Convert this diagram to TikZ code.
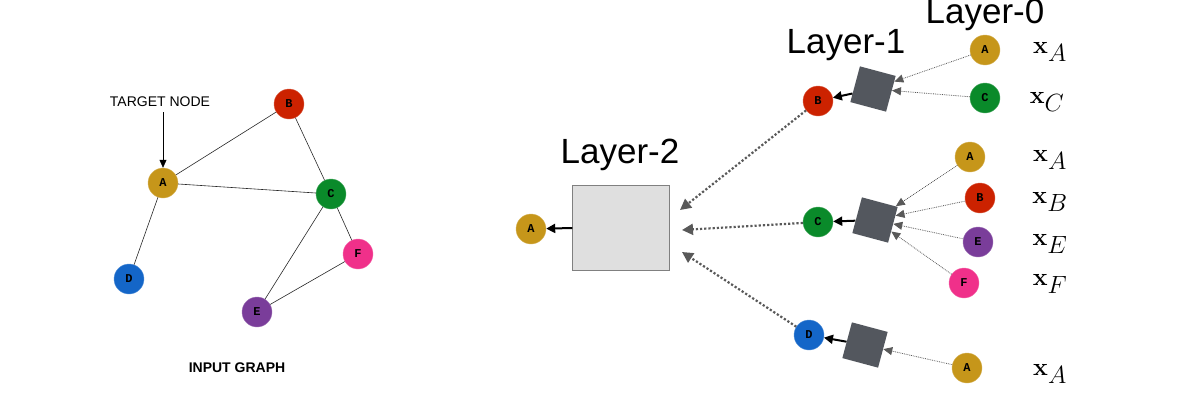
\documentclass[tikz,border=0pt]{standalone}
\usepackage[no-math]{fontspec}
\setmainfont{Liberation Sans}
\newfontfamily\mono{Liberation Mono}
\usetikzlibrary{arrows.meta}
\definecolor{cA}{HTML}{C6961A}\definecolor{cB}{HTML}{CC2200}\definecolor{cC}{HTML}{0A8A2A}
\definecolor{cD}{HTML}{1466C8}\definecolor{cE}{HTML}{7A3D9A}\definecolor{cF}{HTML}{F0308A}
\definecolor{agg}{HTML}{53575E}
\begin{document}
\begin{tikzpicture}[x=1pt,y=-1pt,
 gn/.style={circle,minimum size=30pt,inner sep=0pt,draw=#1!70!white,fill=#1,font=\mono\bfseries\fontsize{12}{12}\selectfont},
 sq/.style={fill=agg,minimum size=37pt,inner sep=0pt,rotate=-15},
 dl/.style={gray!70!black,densely dotted,thick,-{Triangle[length=9pt,width=8pt]}},
 bl/.style={line width=2.2pt,gray!70!black,dotted,-{Triangle[length=11pt,width=11pt]}},
 ar/.style={line width=2pt,-{Triangle[length=9pt,width=9pt]}},
 lab/.style={font=\fontsize{35}{35}\selectfont},
 xl/.style={font=\fontsize{42}{42}\selectfont}]
\useasboundingbox (0,0) rectangle (1200,402);
% input graph
\node[gn=cA] (A) at (163,183) {A};
\node[gn=cB] (B) at (289,104) {B};
\node[gn=cC] (C) at (331,194) {C};
\node[gn=cD] (D) at (129,279) {D};
\node[gn=cE] (E) at (257,312) {E};
\node[gn=cF] (F) at (358,254) {F};
\draw[gray!30!black,semithick] (A)--(B) (A)--(C) (B)--(C) (A)--(D) (C)--(F) (C)--(E) (E)--(F);
\node[font=\fontsize{14}{14}\selectfont] (tn) at (160,102) {TARGET NODE};
\coordinate (t0) at (163,112);
\draw[semithick,-{Triangle[length=8pt,width=7pt]}] (t0) -- (A.north);
\node[font=\fontsize{14}{14}\selectfont\bfseries] (ig) at (237,368) {INPUT GRAPH};
% layer 2
\node[draw=gray,fill=gray!25,minimum width=97pt,minimum height=85pt] (L2) at (621,228) {};
\node[lab] (l2) at (620,155) {Layer-2};
\node[gn=cA] (oA) at (531,229) {A};
\draw[ar] (L2.west) -- (oA);
% layer 1
\node[gn=cB] (B1) at (818,101) {B};
\node[gn=cC] (C1) at (818,222) {C};
\node[gn=cD] (D1) at (809,335) {D};
\coordinate (e1) at (680,210); \coordinate (e2) at (682,230); \coordinate (e3) at (682,252);
\draw[bl] (B1) -- (e1); \draw[bl] (C1) -- (e2); \draw[bl] (D1) -- (e3);
\node[sq] (S1) at (873,89) {}; \node[sq] (S2) at (875,220) {}; \node[sq] (S3) at (865,345) {};
\foreach \s/\t in {S1/B1,S2/C1,S3/D1} \draw[ar] (\s) -- (\t);
\node[lab] (l1) at (846,45) {Layer-1};
\node[lab] (l0) at (985,15) {Layer-0};
% layer 0
\node[gn=cA] (a1) at (985,50) {A}; \node[gn=cC] (c1) at (985,98) {C};
\node[gn=cA] (a2) at (970,157) {A}; \node[gn=cB] (b2) at (980,198) {B};
\node[gn=cE] (e2n) at (978,242) {E}; \node[gn=cF] (f2) at (964,283) {F};
\node[gn=cA] (a3) at (967,368) {A};
\foreach \n/\s in {a1/S1,c1/S1,a2/S2,b2/S2,e2n/S2,f2/S2,a3/S3} \draw[dl] (\n) -- (\s);
\node[xl] (x1) at (1050,52) {$\mathbf{x}_A$};
\node[xl] (x2) at (1047,102) {$\mathbf{x}_C$};
\node[xl] (x3) at (1050,160) {$\mathbf{x}_A$};
\node[xl] (x4) at (1050,202) {$\mathbf{x}_B$};
\node[xl] (x5) at (1050,244) {$\mathbf{x}_E$};
\node[xl] (x6) at (1050,284) {$\mathbf{x}_F$};
\node[xl] (x7) at (1050,374) {$\mathbf{x}_A$};
\end{tikzpicture}
\end{document}
